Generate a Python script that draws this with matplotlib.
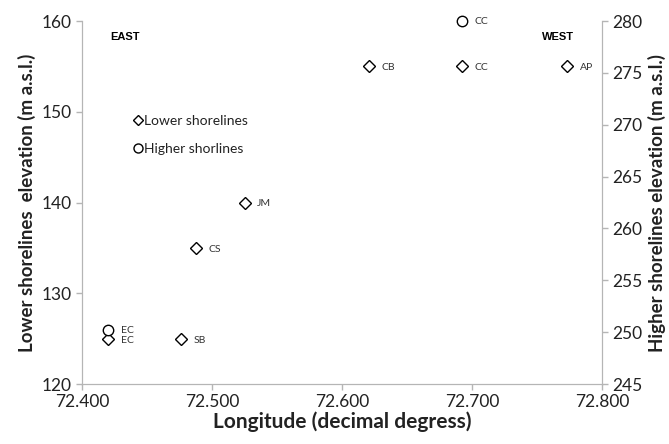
import matplotlib.pyplot as plt
from matplotlib.ticker import FormatStrFormatter, MultipleLocator
from matplotlib.lines import Line2D

plt.rcParams['font.family'] = ['Lato', 'DejaVu Sans']

# Lower shorelines (left axis)
low_lon = [72.420, 72.476, 72.488, 72.525, 72.621, 72.692, 72.773]
low_elev = [125, 125, 135, 140, 155, 155, 155]
low_names = ["EC", "SB", "CS", "JM", "CB", "CC", "AP"]

# Higher shorelines (right axis)
high_lon = [72.420, 72.692]
high_elev = [250.2, 280]
high_names = ["EC", "CC"]

grey = '#b5b5b5'
txt = '#333333'

fig = plt.figure(figsize=(6.69, 4.44), dpi=100)
ax = fig.add_axes([0.1226, 0.135, 0.7774, 0.8177])
ax2 = ax.twinx()

ax.plot(low_lon, low_elev, 'D', ms=6, mfc='white', mec='black', mew=1,
        linestyle='none', clip_on=False)
ax2.plot(high_lon, high_elev, 'o', ms=7.5, mfc='white', mec='black', mew=1,
         linestyle='none', clip_on=False)

for x, y, n in zip(low_lon, low_elev, low_names):
    ax.annotate(n, (x, y), xytext=(9, -1), textcoords='offset points',
                fontsize=7.5, color=txt, va='center')
for x, y, n in zip(high_lon, high_elev, high_names):
    ax2.annotate(n, (x, y), xytext=(9, 0), textcoords='offset points',
                 fontsize=7.5, color=txt, va='center')

ax.set_xlim(72.4, 72.8)
ax.set_ylim(120, 160)
ax2.set_ylim(245, 280)
ax.xaxis.set_major_locator(MultipleLocator(0.1))
ax.xaxis.set_major_formatter(FormatStrFormatter('%.3f'))
ax.yaxis.set_major_locator(MultipleLocator(10))
ax2.yaxis.set_major_locator(MultipleLocator(5))

for a in (ax, ax2):
    for s in a.spines.values():
        s.set_color(grey)
    a.spines['top'].set_visible(False)
    a.tick_params(colors=grey, labelcolor='#222222', labelsize=12.5, length=4, width=1)

ax.set_xlabel("Longitude (decimal degress)", fontsize=15, fontweight='bold', color='#222222', labelpad=1)
ax.set_ylabel("Lower shorelines  elevation (m a.s.l.)", fontsize=13.5, fontweight='bold', color='#222222', labelpad=4)
ax2.set_ylabel("Higher shorelines elevation (m a.s.l.)", fontsize=13.5, fontweight='bold', color='#222222', labelpad=4)

ax.text(0.055, 0.955, "EAST", transform=ax.transAxes, fontsize=8, fontweight='bold',
        family='Liberation Sans', va='center')
ax.text(0.885, 0.955, "WEST", transform=ax.transAxes, fontsize=8, fontweight='bold',
        family='Liberation Sans', va='center')

handles = [Line2D([], [], marker='D', ms=5, mfc='white', mec='black', mew=1, linestyle='none'),
           Line2D([], [], marker='o', ms=6.5, mfc='white', mec='black', mew=1, linestyle='none')]
ax.legend(handles, ["Lower shorelines", "Higher shorlines"], loc='upper left',
          bbox_to_anchor=(0.076, 0.775), frameon=False, handlelength=0.6,
          handletextpad=0.15, labelspacing=1.15, fontsize=10, labelcolor='#222222')

fig.savefig("out.png", dpi=100)
